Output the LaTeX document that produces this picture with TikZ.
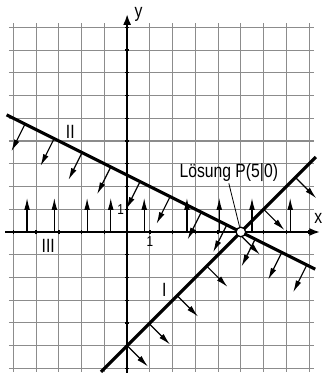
\documentclass[tikz,border=0pt]{standalone}
\usepackage{fontspec}
\setmainfont{Liberation Sans}[FakeStretch=0.82]
\usetikzlibrary{arrows.meta}
\begin{document}
\begin{tikzpicture}[x=0.5cm,y=0.5cm,
  gridline/.style={black!45, line width=0.65pt},
  axisline/.style={line width=1.4pt, -{Latex[length=7pt,width=5pt]}},
  tickmark/.style={line width=0.9pt},
  bound/.style={line width=2pt},
  hint/.style={line width=0.75pt, -{Latex[length=7.5pt,width=3.6pt]}},
  lab/.style={font=\fontsize{12}{14}\selectfont, inner sep=1pt},
  smalllab/.style={font=\fontsize{9}{11}\selectfont, inner sep=1pt},
  leader/.style={line width=0.5pt}]
\useasboundingbox (-5.59,-6.2) rectangle (8.58,10.2);
% grid
\foreach \x in {-5,...,8} \draw[gridline] (\x,-6.15) -- (\x,9.2);
\foreach \y in {-6,...,9} \draw[gridline] (-5.2,\y) -- (8.2,\y);
% axes
\coordinate (xs) at (-5.37,0);
\coordinate (xe) at (8.5,0);
\coordinate (ys) at (0,-6.2);
\coordinate (ye) at (0,9.6);
\draw[axisline] (xs) -- (xe);
\draw[axisline] (ys) -- (ye);
\foreach \x in {-5,...,8} \draw[tickmark] (\x,-0.1) -- (\x,0.1);
\foreach \y in {-6,...,9} \draw[tickmark] (-0.1,\y) -- (0.1,\y);
\node[lab, anchor=west] (ylab) at (0.25,9.55) {y};
\node[lab] (xlab) at (8.4,0.6) {x};
\node[smalllab] (one x) at (1.0,-0.4) {1};
\node[smalllab] (one y) at (-0.28,0.97) {1};
% inequality III: y >= 0
\foreach \x in {-4.4,-3.2,-1.76,-0.72,0.75,2.63,4.05,5.49,7.17}
  \draw[hint] (\x,0) -- ++(0,1.5);
% inequality II: x + 2y <= 5
\foreach \x in {-4.49,-3.21,-1.98,-0.72,0.57,1.89,3.26,4.38,5.63,6.8,7.9}
  \draw[hint] ({\x},{2.5-\x/2}) -- ++(-0.6,-1.2);
\coordinate (IIa) at (-5.3,5.15);
\coordinate (IIb) at (8.27,-1.635);
\draw[bound] (IIa) -- (IIb);
% inequality I: x - y >= 5
\foreach \x in {0,0.97,2.2,3.5,4.92,6.0,7.4}
  \draw[hint] ({\x},{\x-5}) -- ++(0.92,-0.92);
\coordinate (Ia) at (-1.15,-6.15);
\coordinate (Ib) at (8.3,3.3);
\draw[bound] (Ia) -- (Ib);
% labels
\node[lab] (l2) at (-2.5,4.4) {II};
\node[lab] (l3) at (-3.47,-0.6) {III};
\node[lab] (l1) at (1.63,-2.55) {I};
% solution
\node[lab] (lsg) at (4.47,2.62) {Lösung P(5|0)};
\node[circle, draw=black, fill=white, line width=0.8pt, minimum size=6pt, inner sep=0pt] (P) at (5,0) {};
\draw[leader] (lsg.south) -- (P);
\end{tikzpicture}
\end{document}
